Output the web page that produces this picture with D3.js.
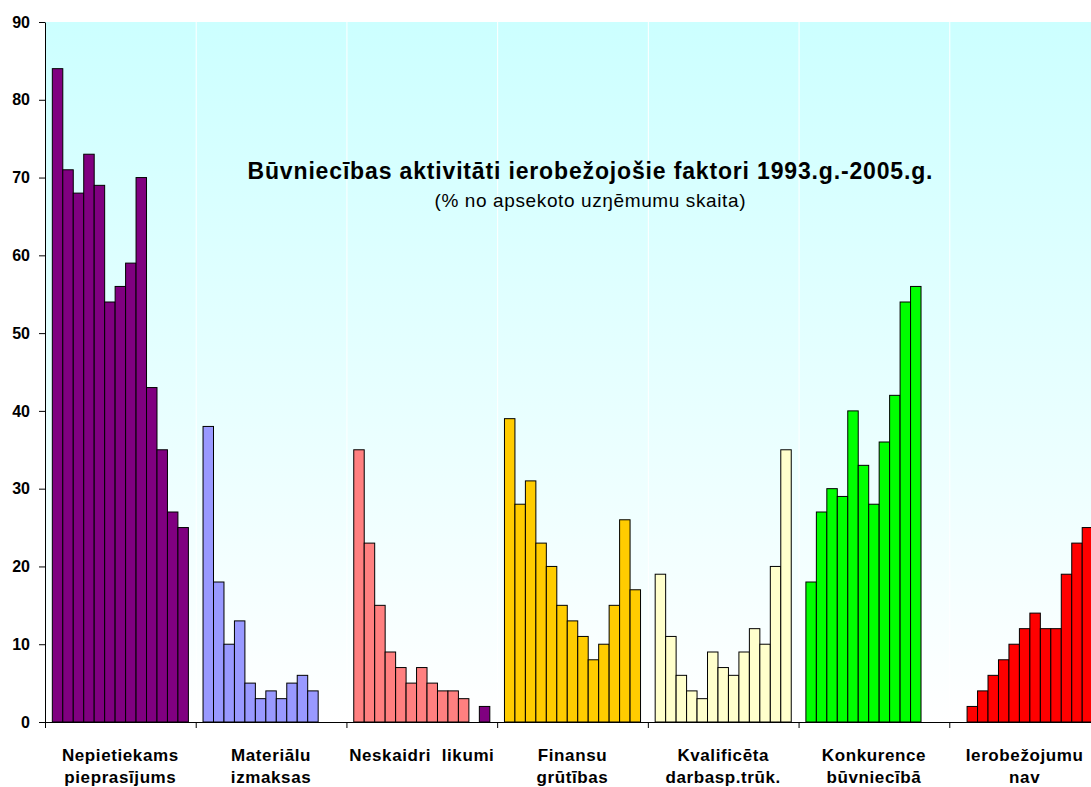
<html>
<head>
<script src="https://d3js.org/d3.v7.min.js"></script>
<style>
body { margin: 0; background: #fff; }
text { font-family: Arial, 'Liberation Sans', sans-serif; }
</style>
</head>
<body>
<svg></svg>
<script>

var width = 1091, height = 787;
var margin = { left: 45, top: 22, bottom: 65 };
var plotRight = 1100;   // plot runs past the right edge of the picture

var years = d3.range(1993, 2006);
var factors = ["Nepietiekams pieprasījums", "Materiālu izmaksas", "Neskaidri  likumi",
	"Finansu grūtības", "Kvalificēta darbasp.trūk.", "Konkurence būvniecībā", "Ierobežojumu nav"];
var labelLines = [["Nepietiekams", "pieprasījums"], ["Materiālu", "izmaksas"], ["Neskaidri  likumi"],
	["Finansu", "grūtības"], ["Kvalificēta", "darbasp.trūk."], ["Konkurence", "būvniecībā"], ["Ierobežojumu", "nav"]];
var colors = ["#800080", "#9999FF", "#FF8080", "#FFCC00", "#FFFFCC", "#00FF00", "#FF0000"];

// one value per year, null where there is no bar
var nepietiekams = [84, 71, 68, 73, 69, 54, 56, 59, 70, 43, 35, 27, 25];
var materialu    = [38, 18, 10, 13, 5, 3, 4, 3, 5, 6, 4, null, null];
var neskaidri    = [35, 23, 15, 9, 7, 5, 7, 5, 4, 4, 3, null, 2];
var finansu      = [39, 28, 31, 23, 20, 15, 13, 11, 8, 10, 15, 26, 17];
var kvalificeta  = [19, 11, 6, 4, 3, 9, 7, 6, 9, 12, 10, 20, 35];
var konkurence   = [18, 27, 30, 29, 40, 33, 28, 36, 42, 54, 56, null, null];
var nav          = [null, 2, 4, 6, 8, 10, 12, 14, 12, 12, 19, 23, 25];
var series = [nepietiekams, materialu, neskaidri, finansu, kvalificeta, konkurence, nav];

// single bar drawn in another colour (Neskaidri likumi, 2005)
var overrides = [{ factor: 2, year: 2005, color: "#800080" }];

var yTicks = d3.range(0, 100, 10);

var svg = d3.select("svg").attr("width", width).attr("height", height);

var x0 = d3.scaleBand().domain(factors).range([margin.left, plotRight]);
var x1 = d3.scaleBand().domain(years).range([0, x0.bandwidth()]).paddingOuter(0.7);
var y = d3.scaleLinear().domain([0, 90]).range([height - margin.bottom, margin.top]);

// plot area background
var grad = svg.append("defs").append("linearGradient").attr("id", "bg")
	.attr("x1", 0).attr("y1", 0).attr("x2", 0).attr("y2", 1);
grad.append("stop").attr("offset", "0%").attr("stop-color", "#CCFFFF");
grad.append("stop").attr("offset", "100%").attr("stop-color", "#FFFFFF");

svg.append("rect")
	.attr("x", margin.left).attr("y", y(90))
	.attr("width", plotRight - margin.left).attr("height", y(0) - y(90))
	.attr("fill", "url(#bg)");

// white vertical grid lines between categories
svg.selectAll("line.grid").data(factors.slice(1)).enter().append("line")
	.attr("class", "grid")
	.attr("x1", function(d) { return x0(d) + 0.5; })
	.attr("x2", function(d) { return x0(d) + 0.5; })
	.attr("y1", y(90)).attr("y2", y(0))
	.style("stroke", "#fff");

// titles
svg.append("text")
	.attr("x", 590).attr("y", 179)
	.attr("text-anchor", "middle")
	.attr("textLength", 685).attr("lengthAdjust", "spacing")
	.style("font-size", "23px").style("font-weight", "bold")
	.text("Būvniecības aktivitāti ierobežojošie faktori 1993.g.-2005.g.");
svg.append("text")
	.attr("x", 590).attr("y", 207)
	.attr("text-anchor", "middle")
	.attr("textLength", 311).attr("lengthAdjust", "spacing")
	.style("font-size", "19px")
	.text("(% no apsekoto uzŋēmumu skaita)");

// bars
var barData = [];
series.forEach(function(vals, i) {
	vals.forEach(function(v, j) {
		if (v === null) return;
		var fill = colors[i];
		overrides.forEach(function(o) { if (o.factor === i && o.year === years[j]) fill = o.color; });
		barData.push({ factor: factors[i], year: years[j], value: v, fill: fill });
	});
});

svg.selectAll("rect.bar").data(barData).enter().append("rect")
	.attr("class", "bar")
	.attr("x", function(d) { return x0(d.factor) + x1(d.year); })
	.attr("y", function(d) { return y(d.value); })
	.attr("width", x1.bandwidth())
	.attr("height", function(d) { return y(0) - y(d.value); })
	.style("fill", function(d) { return d.fill; })
	.style("stroke", "#000")
	.style("stroke-width", 1);

// y axis
var yAxis = svg.append("g")
	.attr("transform", "translate(" + margin.left + ",0)")
	.call(d3.axisLeft(y).tickValues(yTicks).tickSize(6).tickSizeOuter(0));
yAxis.select(".domain").style("stroke", "#000");
yAxis.selectAll(".tick line").style("stroke", "#000");
yAxis.selectAll("text")
	.attr("x", -15)
	.style("font-size", "16px").style("font-weight", "bold").style("fill", "#000")
	.style("font-family", "Arial, 'Liberation Sans', sans-serif");

// x axis: line and ticks at category boundaries
svg.append("line")
	.attr("x1", margin.left).attr("x2", width)
	.attr("y1", y(0) + 0.5).attr("y2", y(0) + 0.5)
	.style("stroke", "#000");
svg.selectAll("line.xtick").data(factors).enter().append("line")
	.attr("class", "xtick")
	.attr("x1", function(d) { return x0(d) + 0.5; })
	.attr("x2", function(d) { return x0(d) + 0.5; })
	.attr("y1", y(0)).attr("y2", y(0) + 6)
	.style("stroke", "#000");

// category labels
var labels = svg.selectAll("text.cat").data(factors).enter().append("text")
	.attr("class", "cat")
	.attr("text-anchor", "middle")
	.attr("xml:space", "preserve")
	.style("font-size", "17px").style("font-weight", "bold")
	.style("letter-spacing", "0.6px");
labels.each(function(d, i) {
	var t = d3.select(this);
	labelLines[i].forEach(function(line, k) {
		t.append("tspan")
			.attr("x", x0(d) + x0.bandwidth() / 2)
			.attr("y", 761 + k * 22)
			.text(line);
	});
});

</script>
</body>
</html>
